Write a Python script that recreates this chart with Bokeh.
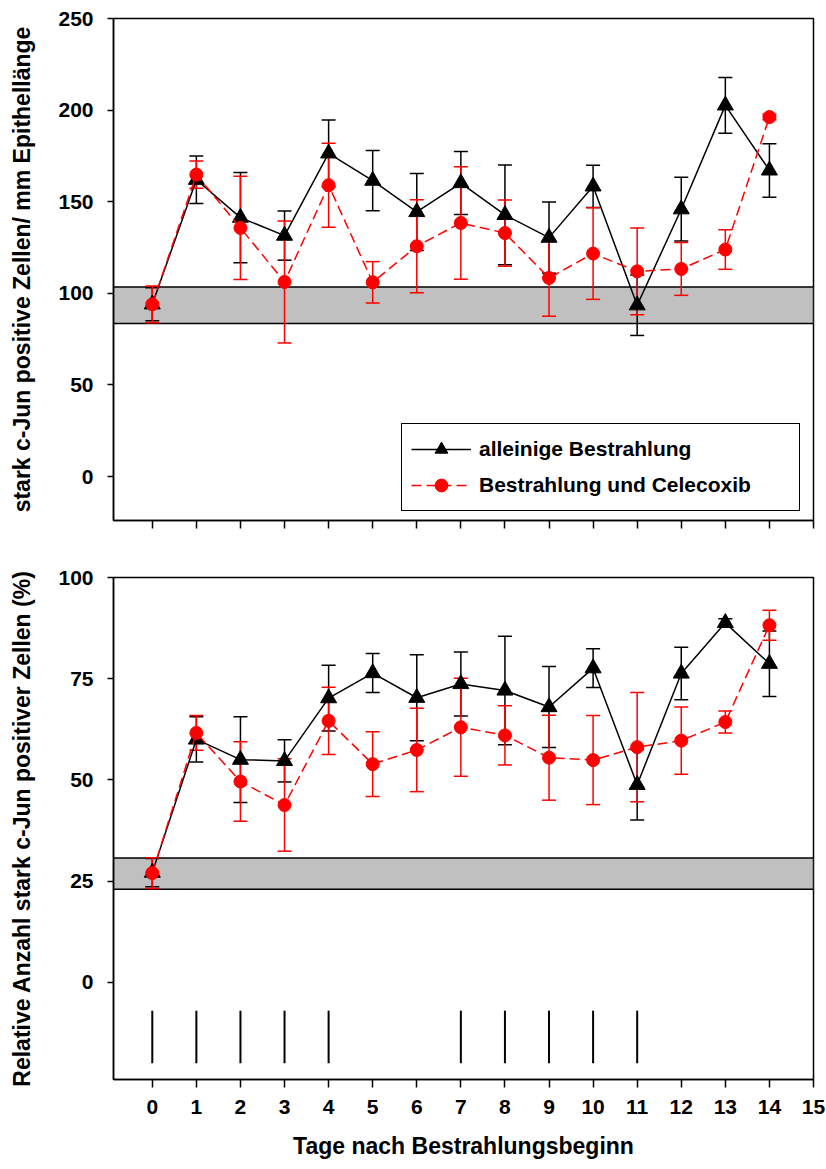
from bokeh.plotting import figure
from bokeh.models import (Range1d, FixedTicker, BoxAnnotation, Whisker, TeeHead,
                          ColumnDataSource, Legend, LegendItem)
from bokeh.layouts import column
from bokeh.embed import file_html
from bokeh.resources import INLINE

# ---------------- data ----------------
days = list(range(15))
x_ticks = list(range(16))

# top panel: stark c-Jun positive Zellen / mm Epithellaenge
top_alone = [94, 162, 141.3, 131.5, 176.4, 161.5, 144.4, 160.2, 142.8, 130.4, 158.4, 93.5, 145.9, 202.6, 167.1]
top_alone_err = [9, 13, 24.6, 13.4, 18.2, 16.5, 21, 17.2, 27.2, 19.4, 11.5, 16.5, 17.4, 15.2, 14.6]
top_celec = [94, 164.8, 135.7, 106.2, 159, 106, 125.7, 138.4, 132.9, 108.4, 121.7, 112, 113.3, 123.9, 196.2]
top_celec_err = [10, 7.4, 28.2, 33.3, 22.9, 11.3, 25.4, 30.7, 18.1, 20.9, 25.0, 23.7, 14.4, 10.8, 1.5]
top_band = [83.5, 103.5]
top_yticks = [0, 50, 100, 150, 200, 250]

# bottom panel: relative Anzahl (%)
bot_alone = [27.1, 60, 55, 54.7, 70.2, 76.4, 70.3, 73.7, 72.1, 68, 77.6, 48.8, 76.3, 88.8, 78.7]
bot_alone_err = [3.5, 5.6, 10.6, 5.2, 8.1, 4.8, 10.6, 7.9, 13.4, 10, 4.8, 8.7, 6.5, 1, 8.1]
bot_celec = [27, 61.6, 49.6, 43.8, 64.6, 53.9, 57.4, 63, 61, 55.5, 54.9, 58.1, 59.7, 64.3, 88.2]
bot_celec_err = [3.8, 4.3, 9.8, 11.4, 8.3, 8, 10.3, 12.1, 7.3, 10.5, 11, 13.5, 8.3, 2.7, 3.7]
bot_band = [23, 30.7]
bot_yticks = [0, 25, 50, 75, 100]

# irradiation days (marks below zero in bottom panel)
irr_days = [0, 1, 2, 3, 4, 7, 8, 9, 10, 11]
IRR_TOP = -7
IRR_BOTTOM = -20

label_alone = "alleinige Bestrahlung"
label_celec = "Bestrahlung und Celecoxib"

FONT = "Liberation Sans"


def style_axes(p):
    for ax in p.axis:
        ax.axis_line_width = 1.5
        ax.axis_line_color = "black"
        ax.major_tick_line_width = 1.5
        ax.major_tick_line_color = "black"
        ax.major_tick_in = 0
        ax.minor_tick_line_color = None
        ax.major_label_text_font = FONT
        ax.major_label_text_font_style = "bold"
        ax.major_label_text_font_size = "21px"
        ax.major_label_text_color = "black"
        ax.axis_label_text_font = FONT
        ax.axis_label_text_font_style = "bold"
        ax.axis_label_text_font_size = "23px"
        ax.axis_label_text_color = "black"
    p.yaxis.major_tick_out = 6
    p.yaxis.major_label_standoff = 14
    p.yaxis.axis_label_standoff = 20
    p.xaxis.major_tick_out = 8
    p.xgrid.visible = False
    p.ygrid.visible = False
    p.outline_line_color = "black"
    p.outline_line_width = 1.5
    p.outline_line_alpha = 1


def make_panel(ylo, yhi, yticks, ylabel, band, alone, alone_err, celec, celec_err, mbt, mbb):
    p = figure(frame_width=700, frame_height=502,
               x_range=Range1d(-0.88, 15), y_range=Range1d(ylo, yhi),
               output_backend="svg", toolbar_location=None,
               min_border_left=113, min_border_right=13,
               min_border_top=mbt, min_border_bottom=mbb)
    p.xaxis.ticker = FixedTicker(ticks=x_ticks)
    p.yaxis.ticker = FixedTicker(ticks=yticks)
    p.yaxis.axis_label = ylabel
    style_axes(p)

    p.add_layout(BoxAnnotation(bottom=band[0], top=band[1], fill_color="#c0c0c0", fill_alpha=1,
                               line_color="black", line_alpha=1, line_width=1.5, level="underlay"))

    for mean, err, col in ((alone, alone_err, "black"), (celec, celec_err, "red")):
        src = ColumnDataSource(dict(x=days,
                                    upper=[m + e for m, e in zip(mean, err)],
                                    lower=[m - e for m, e in zip(mean, err)]))
        p.add_layout(Whisker(source=src, base="x", upper="upper", lower="lower",
                             line_color=col, line_width=1.5,
                             upper_head=TeeHead(size=14, line_color=col, line_width=1.5),
                             lower_head=TeeHead(size=14, line_color=col, line_width=1.5)))

    lb = p.line(days, alone, line_color="black", line_width=1.5)
    sb = p.scatter(days, alone, marker="triangle", size=16, color="black")
    lr = p.line(days, celec, line_color="red", line_width=1.5, line_dash="10 5")
    sr = p.scatter(days, celec, marker="circle", size=13, color="red")
    return p, (lb, sb, lr, sr)


top, (lb, sb, lr, sr) = make_panel(-24, 250, top_yticks,
                                   "stark c-Jun positive Zellen/ mm Epithellänge",
                                   top_band, top_alone, top_alone_err, top_celec, top_celec_err,
                                   mbt=18, mbb=45)
top.xaxis.major_label_overrides = {t: "" for t in x_ticks}

legend = Legend(items=[LegendItem(label=label_alone, renderers=[lb, sb]),
                       LegendItem(label=label_celec, renderers=[lr, sr])],
                location=(288, 9), orientation="vertical",
                label_text_font=FONT, label_text_font_style="bold", label_text_font_size="21px",
                label_text_color="black", glyph_width=60, glyph_height=32,
                label_height=24, label_width=311, label_standoff=8,
                padding=9, spacing=4, margin=0,
                border_line_color="black", border_line_alpha=1, border_line_width=1.5,
                background_fill_color="white", background_fill_alpha=1)
top.add_layout(legend)

bottom, _ = make_panel(-24, 100, bot_yticks,
                       "Relative Anzahl stark c-Jun positiver Zellen (%)",
                       bot_band, bot_alone, bot_alone_err, bot_celec, bot_celec_err,
                       mbt=12, mbb=90)
bottom.xaxis.axis_label = "Tage nach Bestrahlungsbeginn"
bottom.xaxis.major_label_standoff = 12
bottom.xaxis.axis_label_standoff = 16
bottom.segment(x0=irr_days, y0=[IRR_TOP] * len(irr_days), x1=irr_days,
               y1=[IRR_BOTTOM] * len(irr_days), line_color="black", line_width=2)

layout = column(top, bottom, spacing=0)
open("out.html", "w").write(file_html(layout, INLINE))
